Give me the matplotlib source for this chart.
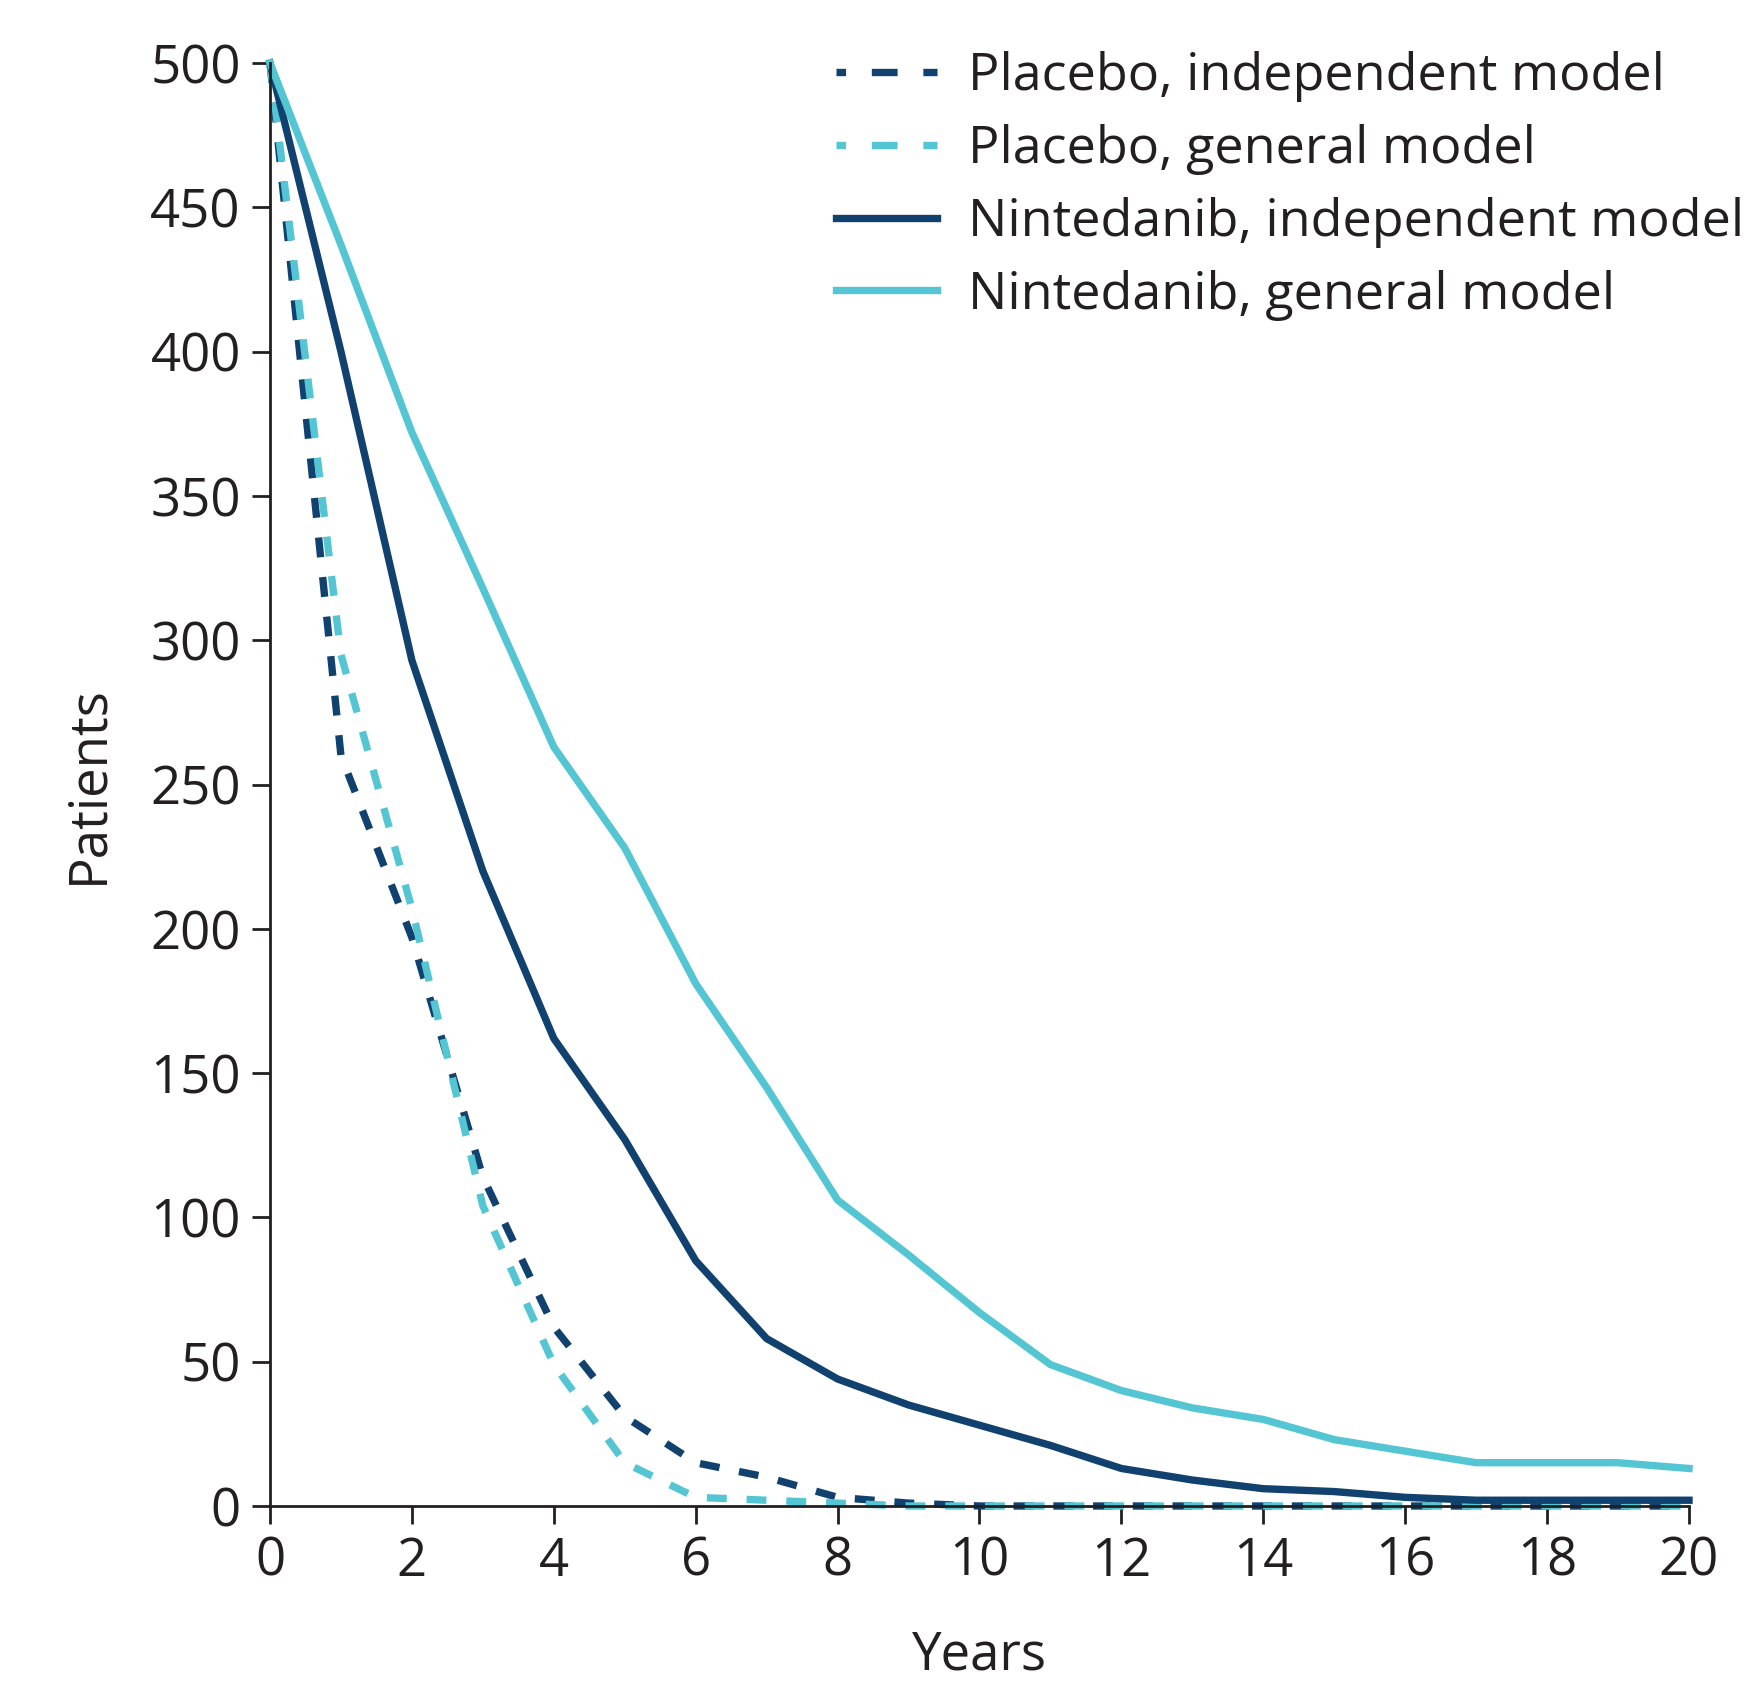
import matplotlib
matplotlib.use("Agg")
import matplotlib.pyplot as plt

plt.rcParams['font.family'] = ['Open Sans', 'DejaVu Sans']

years = list(range(0, 21))
placebo_indep = [500, 260, 197, 114, 62, 31, 15, 10, 3, 1, 0, 0, 0, 0, 0, 0, 0, 0, 0, 0, 0]
placebo_gen = [500, 295, 207, 104, 49, 15, 3, 2, 1, 0, 0, 0, 0, 0, 0, 0, 0, 0, 0, 0, 0]
nint_indep = [500, 400, 293, 220, 162, 127, 85, 58, 44, 35, 28, 21, 13, 9, 6, 5, 3, 2, 2, 2, 2]
nint_gen = [500, 437, 372, 318, 263, 228, 181, 145, 106, 87, 67, 49, 40, 34, 30, 23, 19, 15, 15, 15, 13]
labels = ["Placebo, independent model", "Placebo, general model",
          "Nintedanib, independent model", "Nintedanib, general model"]
xticks = list(range(0, 21, 2))
yticks = list(range(0, 501, 50))

DARK = "#11416E"
LIGHT = "#54C5D3"
TXT = "#231F20"

fig = plt.figure(figsize=(17.57, 16.82), dpi=100)
ax = fig.add_axes([270/1757, 1 - 1506/1682, (1689-270)/1757, (1506-63)/1682])

lw = 5.3
dash = (2.7, 2.7)
ax.plot(years, placebo_indep, color=DARK, lw=lw, dashes=dash, clip_on=False, label=labels[0])
ax.plot(years, placebo_gen, color=LIGHT, lw=lw, dashes=dash, clip_on=False, label=labels[1])
ax.plot(years, nint_indep, color=DARK, lw=lw, clip_on=False, label=labels[2])
ax.plot(years, nint_gen, color=LIGHT, lw=lw, clip_on=False, label=labels[3])

ax.set_xlim(0, 20)
ax.set_ylim(0, 500)
ax.set_xticks(xticks)
ax.set_yticks(yticks)
for s in ["top", "right"]:
    ax.spines[s].set_visible(False)
for s in ["left", "bottom"]:
    ax.spines[s].set_linewidth(2.0)
    ax.spines[s].set_color(TXT)
ax.tick_params(axis="both", direction="out", length=13, width=2.0, color=TXT,
               labelsize=38, labelcolor=TXT)
ax.tick_params(axis="y", pad=8)
ax.tick_params(axis="x", pad=8)

ax.set_xlabel("Years", fontsize=38, color=TXT, labelpad=29)
ax.set_ylabel("Patients", fontsize=38, color=TXT, labelpad=25)

leg = ax.legend(loc="upper left", bbox_to_anchor=(836/1757, 1 - 51/1682),
                bbox_transform=fig.transFigure, frameon=False, fontsize=37.5,
                handlelength=1.93, handletextpad=0.6, labelspacing=0.42,
                borderaxespad=0, borderpad=0)
for t in leg.get_texts():
    t.set_color(TXT)
for ln in leg.get_lines()[:2]:
    ln.set_linestyle((2.2, (3.5, 3.5)))

fig.savefig("out.png", dpi=100)
